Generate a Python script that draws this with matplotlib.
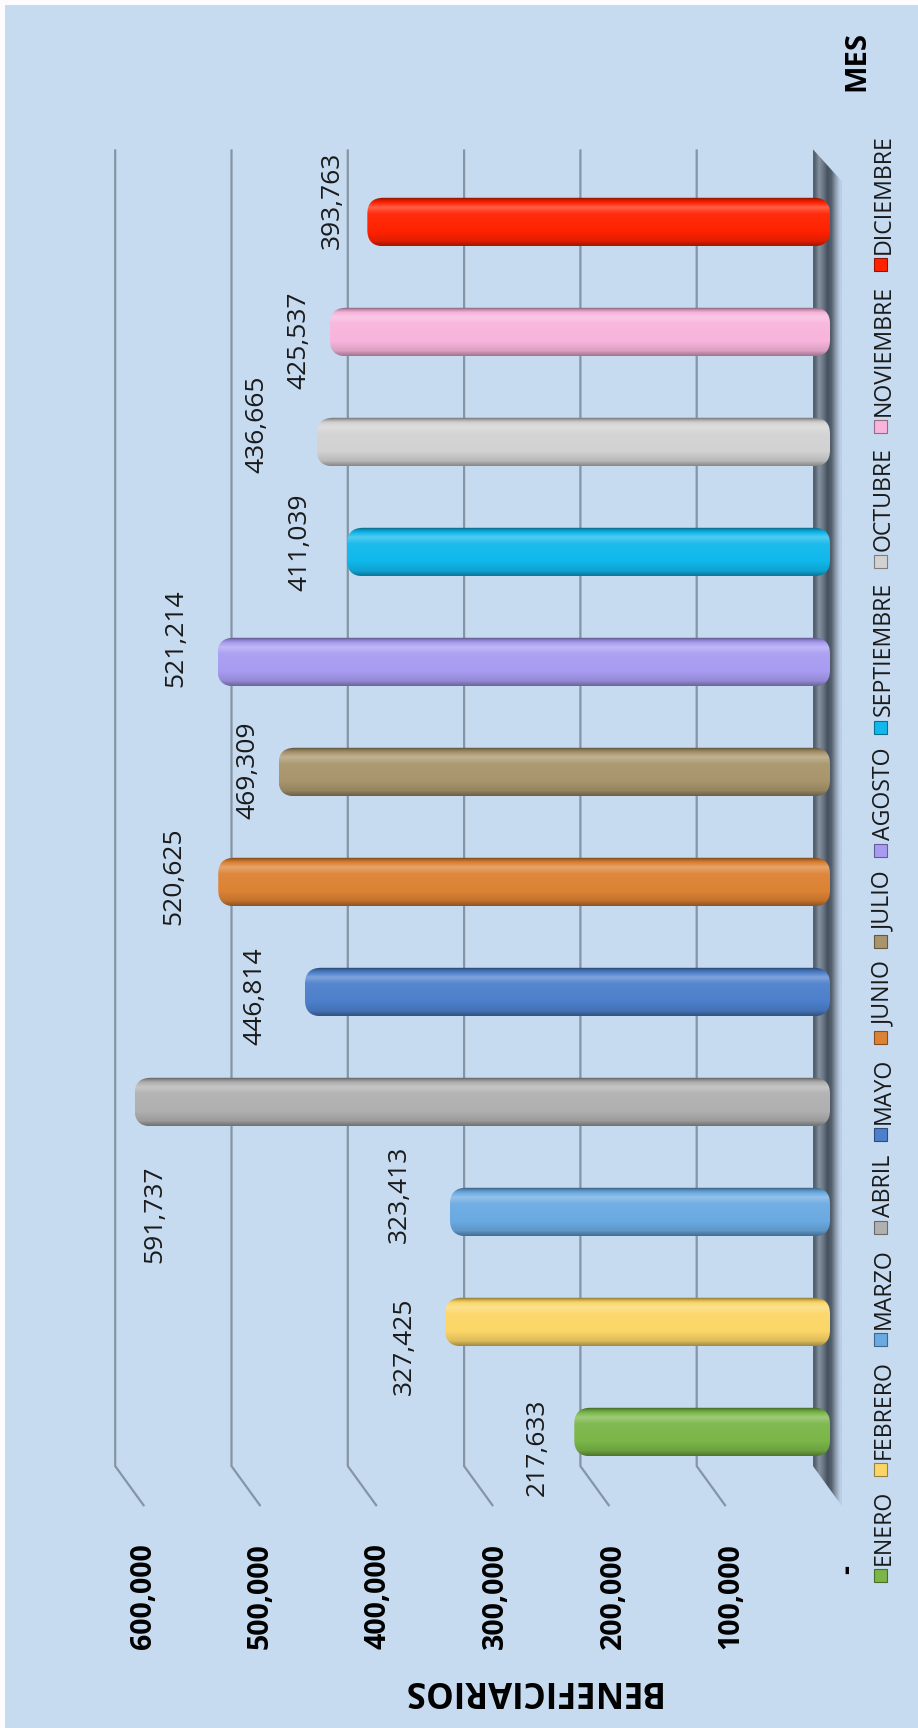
import numpy as np
import matplotlib
matplotlib.use('Agg')
import matplotlib.pyplot as plt
import matplotlib.transforms as mtransforms
from matplotlib.patches import FancyBboxPatch, Rectangle, Polygon
from matplotlib.colors import to_rgb

plt.rcParams['font.family'] = ['Open Sans', 'DejaVu Sans']

# data
meses = ['ENERO', 'FEBRERO', 'MARZO', 'ABRIL', 'MAYO', 'JUNIO', 'JULIO',
         'AGOSTO', 'SEPTIEMBRE', 'OCTUBRE', 'NOVIEMBRE', 'DICIEMBRE']
beneficiarios = [217633, 327425, 323413, 591737, 446814, 520625, 469309,
                 521214, 411039, 436665, 425537, 393763]
colores = ['#7ab648', '#fbd667', '#6aaae2', '#b0b0b0', '#4d80cc', '#dc8234',
           '#a8956c', '#a89cf2', '#10b8ec', '#d2d2d2', '#f8b4dc', '#ff2200']
ticks = [0, 100000, 200000, 300000, 400000, 500000, 600000]
tick_labels = ['-', '100,000', '200,000', '300,000', '400,000', '500,000', '600,000']

# hand placed data labels in the original (pixels: left of bar end, below bar centre)
label_dx = [37, 41, 51, -20, 50, 44, 31, 42, 47, 60, 31, 35]
label_dy = [15, 24, -18, 112, 4, -6, -2, -24, -10, -18, 8, -22]

W, H, DPI = 918, 1728, 100
BG = '#c6daf0'
GRID = '#8595a6'

fig = plt.figure(figsize=(W / DPI, H / DPI), dpi=DPI, facecolor='#fcfbfd')
fig.patches.append(Rectangle((5 / W, 0), 1, (H - 5) / H, transform=fig.transFigure,
                             facecolor=BG, edgecolor='none', zorder=-10))

# layout of the rotated 3D chart
ROW_PX = 110          # pixels between months
ROW0 = 296            # figure px (from bottom) of the first month
XLIM = (650000, -50000)
YLIM = (-1.6, 12.3)


def axes_rect(zero_px, px_per_100k):
    left = zero_px - XLIM[0] / 1e5 * px_per_100k
    right = zero_px - XLIM[1] / 1e5 * px_per_100k
    bottom = ROW0 + YLIM[0] * ROW_PX
    top = ROW0 + YLIM[1] * ROW_PX
    return [left / W, bottom / H, (right - left) / W, (top - bottom) / H]


BACK_PX = 116.3
FRONT_PX = 117.5
back = fig.add_axes(axes_rect(813, BACK_PX))
front = fig.add_axes(axes_rect(830, FRONT_PX))

WALL_TOP = 11.66
WALL_BOT = -0.31
DEPTH_DX = -29 / BACK_PX * 1e5
DEPTH_DY = -40 / ROW_PX

# back wall gridlines with their perspective foot
for v in ticks[1:]:
    back.plot([v, v, v + DEPTH_DX], [WALL_TOP, WALL_BOT, WALL_BOT + DEPTH_DY],
              color=GRID, lw=1.6, solid_capstyle='butt', zorder=1)

# floor
floor = Polygon([(0, WALL_TOP), (DEPTH_DX, WALL_TOP + DEPTH_DY * 0.8),
                 (DEPTH_DX, WALL_BOT + DEPTH_DY), (0, WALL_BOT)],
                closed=True, facecolor='none', edgecolor='none')
back.add_patch(floor)
floor_cols = ['#56636f', '#8591a0', '#6a7684', '#46525f', '#56626f', '#8e9cac', '#b9cde3']
floor_grad = np.array([[to_rgb(c) for c in floor_cols]])
fim = back.imshow(floor_grad, extent=(0, DEPTH_DX, WALL_BOT + DEPTH_DY, WALL_TOP),
                  aspect='auto', interpolation='bilinear', zorder=2)
fim.set_clip_path(floor)

# cylinder bars
BAR_H = 0.44
R_PX = 16
px_x = FRONT_PX / 1e5
t_pts = [0, 0.06, 0.2, 0.34, 0.7, 0.9, 1.0]
s_pts = [-0.5, -0.15, 0.28, 0.05, 0.0, -0.12, -0.35]
t = np.linspace(0, 1, 60)
shade = np.interp(t, t_pts, s_pts)


def cylinder(color):
    base = np.array(to_rgb(color))
    rows = []
    for s in shade:
        if s < 0:
            rows.append(base * (1 + s))
        else:
            rows.append(base + (1 - base) * s)
    return np.array(rows)[:, None, :]


for i, (v, c) in enumerate(zip(beneficiarios, colores)):
    y0 = i - BAR_H / 2
    patch = FancyBboxPatch((0, y0), v, BAR_H,
                           boxstyle=f'round,pad=0,rounding_size={R_PX / px_x}',
                           mutation_aspect=px_x / ROW_PX,
                           facecolor='none', edgecolor='none', zorder=3)
    front.add_patch(patch)
    im = front.imshow(cylinder(c), extent=(0, v, y0, y0 + BAR_H), aspect='auto',
                      interpolation='bilinear', zorder=3)
    im.set_clip_path(patch)

    tr = mtransforms.offset_copy(front.transData, fig=fig, x=-label_dx[i],
                                 y=-label_dy[i], units='dots')
    front.text(v, i, f'{v:,}', transform=tr, rotation=90, ha='center', va='center',
               fontsize=19, color='#1a1a1a', zorder=5)

# value axis tick labels
tick_tr = mtransforms.offset_copy(front.transData, fig=fig, x=18, y=0, units='dots')
for v, lab in zip(ticks, tick_labels):
    if v == 0:
        front.text(v, -1.25, lab, transform=tick_tr, rotation=90, ha='center',
                   va='center', fontsize=20, fontweight='bold')
    else:
        front.text(v, -1.01, lab, transform=tick_tr, rotation=90, ha='center',
                   va='top', fontsize=20.5, fontweight='bold')

for ax in (back, front):
    ax.set_xlim(XLIM)
    ax.set_ylim(YLIM)
    ax.set_axis_off()

# axis titles
fig.text(530 / W, (H - 1690) / H, 'BENEFICIARIOS', rotation=180, ha='center',
         va='center', fontsize=25, fontweight='bold')
fig.text(857 / W, (H - 61) / H, 'MES', rotation=90, ha='center', va='center',
         fontsize=21, fontweight='bold')

# legend, stacked along the right edge, sized to span the same run as the original
renderer = fig.canvas.get_renderer()
LEG_START, LEG_END = 146, 1598
MARK, MARK_GAP, ENTRY_GAP = 13, 4, 14
leg_texts = [fig.text(884 / W, 0, m, rotation=90, ha='center', va='bottom',
                      fontsize=19, color='#1a1a1a') for m in meses]
text_len = sum(tx.get_window_extent(renderer).height for tx in leg_texts)
fixed = len(meses) * (MARK + MARK_GAP) + (len(meses) - 1) * ENTRY_GAP
leg_fs = 19 * (LEG_END - LEG_START - fixed) / text_len

y = LEG_START
for tx, c in zip(leg_texts, colores):
    fig.patches.append(Rectangle((873.5 / W, y / H), MARK / W, MARK / H,
                                 transform=fig.transFigure, facecolor=c,
                                 edgecolor=np.array(to_rgb(c)) * 0.6, lw=0.8))
    tx.set_fontsize(leg_fs)
    tx.set_y((y + MARK + MARK_GAP) / H)
    ext = tx.get_window_extent(renderer)
    y = ext.y1 + ENTRY_GAP

fig.savefig('out.png', dpi=DPI, facecolor=fig.get_facecolor())
